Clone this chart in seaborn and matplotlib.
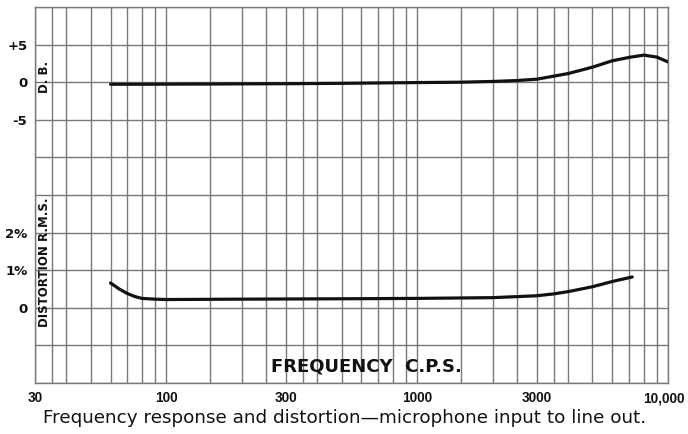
import numpy as np
import pandas as pd
import matplotlib
matplotlib.use("Agg")
import matplotlib.pyplot as plt
import matplotlib.transforms as mtrans
import seaborn as sns

# ---- data ----
db_freq = [60, 80, 100, 150, 200, 300, 500, 700, 1000, 1500, 2000, 2500,
           3000, 3500, 4000, 5000, 6000, 7000, 8000, 9000, 10000]
db_vals = [-0.27, -0.27, -0.26, -0.24, -0.22, -0.2, -0.15, -0.1, -0.05, 0.0, 0.1, 0.22,
           0.4, 0.8, 1.15, 2.0, 2.85, 3.3, 3.6, 3.35, 2.7]

dist_freq = [60, 65, 70, 75, 80, 90, 100, 200, 500, 1000, 2000, 3000,
             3500, 4000, 5000, 6000, 7200]
dist_vals = [0.66, 0.5, 0.38, 0.3, 0.25, 0.23, 0.22, 0.23, 0.24, 0.25, 0.27, 0.32,
             0.37, 0.43, 0.56, 0.7, 0.82]

x_major = [30, 100, 300, 1000, 3000, 10000]
x_major_labels = ["30", "100", "300", "1000", "3000", "10,000"]
db_ticks = [-5, 0, 5]
db_tick_labels = ["-5", "0", "+5"]
dist_ticks = [0, 1, 2]
dist_tick_labels = ["0", "1%", "2%"]

# chart grid units: 10 horizontal divisions; 0 dB at 8, 0% at 2
def db_to_grid(v):
    return 8 + np.asarray(v, dtype=float) / 5.0

def pct_to_grid(v):
    return 2 + np.asarray(v, dtype=float)

df_db = pd.DataFrame({"freq": db_freq, "y": db_to_grid(db_vals)})
df_dist = pd.DataFrame({"freq": dist_freq, "y": pct_to_grid(dist_vals)})

sns.set_style("white")
plt.rcParams["font.family"] = ["DejaVu Sans"]

fig = plt.figure(figsize=(6.88, 4.34), dpi=100)
ax = fig.add_axes([35 / 688, 1 - 383 / 434, 633 / 688, 376 / 434])

# grid lines
grid_x = []
for dec in [10, 100, 1000]:
    for m in [1, 1.5, 2, 2.5, 3, 3.5, 4, 5, 6, 7, 8, 9]:
        f = dec * m
        if 30 <= f <= 10000:
            grid_x.append(f)
grid_x.append(10000)
gcol = "#787878"
for f in grid_x:
    ax.axvline(f, color=gcol, lw=1.0, zorder=1)
for g in range(0, 11):
    ax.axhline(g, color=gcol, lw=1.0, zorder=1)

sns.lineplot(data=df_db, x="freq", y="y", ax=ax, color="#111111", lw=2.3,
             solid_capstyle="round", solid_joinstyle="round", zorder=3)
sns.lineplot(data=df_dist, x="freq", y="y", ax=ax, color="#111111", lw=2.3,
             solid_capstyle="round", solid_joinstyle="round", zorder=3)

ax.set_xscale("log")
ax.set_xlim(30, 10000)
ax.set_ylim(0, 10)
ax.set_xticks(x_major)
ax.set_xticklabels(x_major_labels)
ax.xaxis.set_minor_locator(matplotlib.ticker.NullLocator())
yt = list(db_to_grid(db_ticks)) + list(pct_to_grid(dist_ticks))
ax.set_yticks(yt)
ax.set_yticklabels(db_tick_labels + dist_tick_labels)
ax.tick_params(axis="both", length=0, colors="#111111")
ax.tick_params(axis="x", pad=6, labelsize=9.8)
ax.tick_params(axis="y", pad=5.5, labelsize=9.5)
xlabs = ax.get_xticklabels()
for lab in xlabs:
    lab.set_fontfamily("Liberation Sans")
    lab.set_fontweight("bold")
xlabs[-1].set_transform(xlabs[-1].get_transform() +
                        mtrans.ScaledTranslation(-4 / 100, 0, fig.dpi_scale_trans))
for lab in ax.get_yticklabels():
    lab.set_fontweight("semibold")
ax.set_xlabel("")
ax.set_ylabel("")
for s in ax.spines.values():
    s.set_color(gcol)
    s.set_linewidth(1.0)

# inner labels
ax.text(32.6, 8.15, "D. B.", rotation=90, ha="center", va="center",
        fontsize=8.5, fontweight="bold", color="#111111", zorder=4)
ax.text(32.6, 3.2, "DISTORTION R.M.S.", rotation=90, ha="center", va="center",
        fontsize=8.5, fontweight="bold", color="#111111", zorder=4)
ax.text(10 ** ((367 - 35) / 251.0 + np.log10(30)), 0.45,
        "FREQUENCY  C.P.S.", ha="center", va="center",
        fontsize=13, fontweight="bold", color="#111111", zorder=4)

fig.text(345 / 688, 1 - 418 / 434,
         "Frequency response and distortion\u2014microphone input to line out.",
         ha="center", va="center", fontsize=13.2, color="#111111")

fig.savefig("out.png", dpi=100, facecolor="white")
